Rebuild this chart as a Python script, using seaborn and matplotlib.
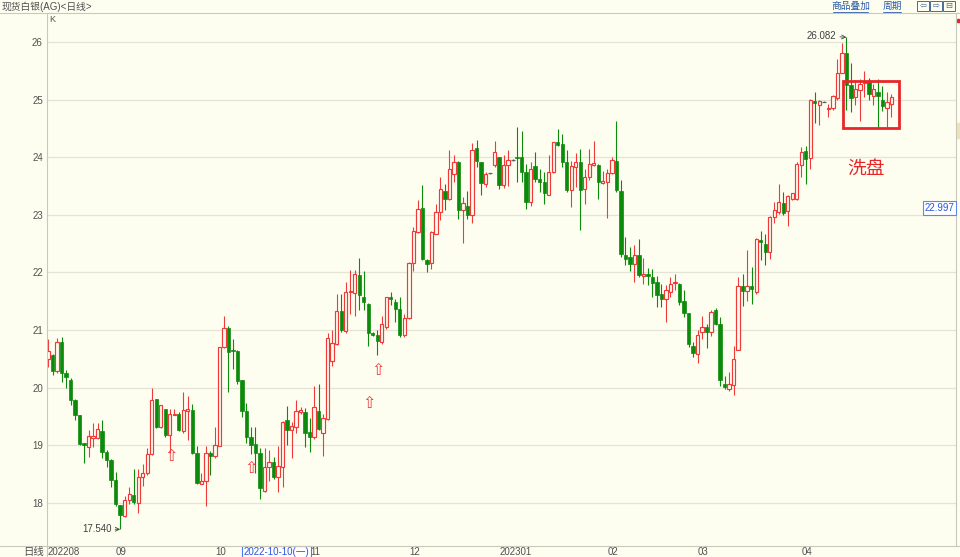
import matplotlib
matplotlib.use("Agg")
import matplotlib.pyplot as plt
import matplotlib.transforms as mtransforms
from matplotlib.lines import Line2D
from matplotlib.patches import Rectangle
import numpy as np
import seaborn as sns

# daily candles, spot silver (AG), Aug 2022 - Apr 2023
opens = [
    20.49, 20.57, 20.28, 20.80, 20.25, 20.14, 19.78, 19.52, 19.03, 18.97,
    19.12, 19.12, 19.24, 18.89, 18.75, 18.40, 17.96, 17.77, 18.04, 18.13,
    17.99, 18.44, 18.51, 18.85, 19.80, 19.31, 19.62, 19.18, 19.53, 19.54,
    19.25, 19.60, 19.61, 18.86, 18.33, 18.37, 18.87, 18.82, 18.99, 20.70,
    21.03, 20.65, 20.64, 20.13, 19.60, 19.15, 19.02, 18.86, 18.21, 18.63,
    18.71, 18.44, 18.63, 19.43, 19.26, 19.32, 19.58, 19.58, 19.23, 19.15,
    19.60, 19.21, 19.45, 20.47, 20.76, 21.33, 20.99, 21.66, 21.64, 21.95,
    21.57, 21.45, 20.94, 20.92, 20.79, 21.05, 21.57, 21.49, 21.37, 20.91,
    21.21, 22.16, 22.70, 23.12, 22.22, 22.16, 22.67, 23.05, 23.41, 23.27,
    23.71, 23.91, 23.08, 23.16, 22.99, 24.16, 23.91, 23.54, 23.72, 23.87,
    24.00, 23.51, 23.87, 23.95, 24.00, 24.00, 23.74, 23.22, 23.84, 23.62,
    23.57, 23.35, 23.75, 24.26, 24.23, 23.91, 23.43, 23.83, 23.91, 23.45,
    23.66, 23.87, 23.87, 23.56, 23.57, 23.72, 23.94, 23.41, 22.30, 22.27,
    22.15, 22.31, 21.94, 21.97, 21.92, 21.83, 21.62, 21.54, 21.66, 21.82,
    21.80, 21.50, 21.29, 20.73, 20.59, 20.97, 21.05, 20.97, 21.34, 21.11,
    20.06, 19.98, 20.04, 20.66, 21.77, 21.68, 21.76, 21.66, 22.57, 22.49,
    22.35, 22.97, 23.05, 23.21, 23.07, 23.28, 23.28, 23.86, 24.11, 23.98,
    24.98, 24.90, 24.96, 24.83, 24.85, 25.02, 25.47, 25.81, 25.25, 25.04,
    25.17, 25.28, 25.31, 25.06, 25.14, 24.99, 24.85, 24.92,
]
closes = [
    20.64, 20.29, 20.80, 20.25, 20.18, 19.78, 19.52, 19.02, 19.00, 19.16,
    19.16, 19.28, 18.88, 18.74, 18.40, 17.98, 17.79, 18.04, 18.15, 18.02,
    18.44, 18.51, 18.85, 19.78, 19.31, 19.69, 19.18, 19.54, 19.55, 19.26,
    19.61, 19.62, 18.86, 18.35, 18.37, 18.87, 18.82, 19.00, 20.70, 21.03,
    20.61, 20.63, 20.12, 19.60, 19.15, 19.01, 18.86, 18.25, 18.63, 18.71,
    18.44, 18.64, 19.41, 19.26, 19.33, 19.59, 19.61, 19.22, 19.15, 19.66,
    19.28, 19.47, 20.86, 20.78, 21.33, 21.00, 21.66, 21.68, 21.97, 21.60,
    21.49, 20.94, 20.92, 20.81, 21.11, 21.57, 21.53, 21.37, 20.91, 21.21,
    22.17, 22.72, 23.10, 22.23, 22.15, 22.70, 23.05, 23.45, 23.27, 23.80,
    23.91, 23.08, 23.20, 22.99, 24.13, 23.94, 23.55, 23.71, 23.72, 24.09,
    23.51, 23.87, 23.95, 23.95, 23.99, 23.74, 23.22, 23.80, 23.62, 23.57,
    23.38, 23.75, 24.26, 24.22, 23.91, 23.43, 23.84, 23.91, 23.43, 23.66,
    23.88, 23.90, 23.57, 23.58, 23.72, 23.95, 23.43, 22.32, 22.24, 22.15,
    22.31, 21.95, 21.97, 21.93, 21.81, 21.60, 21.54, 21.70, 21.80, 21.84,
    21.49, 21.29, 20.75, 20.60, 20.91, 21.05, 20.97, 21.31, 21.11, 20.13,
    20.01, 20.07, 20.50, 21.77, 21.68, 21.77, 21.72, 22.58, 22.53, 22.35,
    22.97, 23.08, 23.22, 23.03, 23.32, 23.37, 23.89, 24.09, 23.96, 25.00,
    24.94, 24.97, 24.96, 24.86, 25.06, 25.47, 25.81, 25.25, 25.02, 25.19,
    25.27, 25.31, 25.10, 25.18, 25.06, 24.89, 24.96, 25.05,
]
highs = [
    20.84, 20.59, 20.86, 20.87, 20.31, 20.16, 19.80, 19.53, 19.04, 19.26,
    19.39, 19.39, 19.43, 18.91, 18.76, 18.54, 17.97, 18.11, 18.28, 18.58,
    18.58, 18.67, 18.95, 20.00, 19.81, 19.70, 19.63, 19.63, 19.62, 19.58,
    19.92, 19.85, 19.71, 18.99, 18.51, 18.99, 18.90, 19.31, 20.71, 21.24,
    21.07, 20.85, 20.65, 20.14, 19.73, 19.32, 19.31, 18.95, 18.95, 18.92,
    18.80, 18.99, 19.42, 19.68, 19.41, 19.78, 19.66, 19.64, 19.48, 20.03,
    20.07, 19.55, 20.94, 21.00, 21.63, 21.62, 21.83, 22.05, 22.05, 22.25,
    22.03, 21.46, 20.96, 21.00, 21.24, 21.58, 21.66, 21.53, 21.57, 21.28,
    22.18, 22.79, 23.25, 23.51, 22.23, 22.71, 23.19, 23.66, 23.54, 24.12,
    24.03, 23.94, 23.31, 23.42, 24.24, 24.29, 23.92, 23.74, 23.73, 24.28,
    24.01, 24.03, 24.12, 23.97, 24.53, 24.45, 23.88, 23.91, 24.09, 23.80,
    23.74, 24.03, 24.27, 24.49, 24.40, 24.12, 23.94, 24.07, 24.14, 23.80,
    24.14, 24.28, 23.88, 23.76, 23.80, 24.01, 24.62, 23.60, 22.61, 22.44,
    22.47, 22.58, 22.25, 22.08, 22.06, 21.93, 21.80, 21.78, 21.92, 21.98,
    21.81, 21.69, 21.30, 20.79, 21.00, 21.25, 21.11, 21.35, 21.38, 21.23,
    20.20, 20.27, 20.73, 21.92, 21.98, 22.38, 22.09, 22.59, 22.72, 22.66,
    22.98, 23.22, 23.53, 23.40, 23.34, 23.38, 23.92, 24.18, 24.19, 25.01,
    25.14, 25.00, 24.97, 24.93, 25.08, 25.70, 25.98, 26.082, 25.63, 25.34,
    25.35, 25.50, 25.37, 25.27, 25.35, 25.24, 25.14, 25.10,
]
lows = [
    20.36, 20.22, 20.25, 20.09, 20.00, 19.70, 19.44, 19.00, 18.69, 18.79,
    18.97, 19.10, 18.77, 18.63, 18.28, 17.94, 17.54, 17.75, 17.98, 17.98,
    17.82, 18.29, 18.49, 18.83, 19.30, 19.30, 19.15, 18.86, 19.52, 19.25,
    19.22, 19.09, 18.85, 18.33, 18.32, 17.94, 18.48, 18.77, 18.98, 20.68,
    19.92, 20.33, 20.07, 19.49, 19.04, 18.85, 18.51, 18.07, 18.19, 18.37,
    18.42, 18.19, 18.28, 19.00, 18.78, 19.22, 19.55, 18.97, 18.88, 19.10,
    19.27, 18.81, 19.44, 20.37, 20.74, 20.96, 20.94, 21.27, 21.25, 21.35,
    21.35, 20.72, 20.90, 20.56, 20.76, 21.02, 21.44, 21.14, 20.88, 20.88,
    21.19, 22.02, 22.68, 22.21, 22.00, 22.06, 22.66, 22.91, 23.09, 23.25,
    23.57, 22.93, 22.51, 22.93, 22.86, 23.83, 23.35, 23.49, 23.71, 23.83,
    23.45, 23.47, 23.50, 23.94, 23.57, 23.57, 23.10, 23.16, 23.57, 23.39,
    23.19, 23.34, 23.72, 24.20, 23.83, 23.39, 23.13, 23.48, 22.74, 23.19,
    23.60, 23.85, 23.27, 23.54, 22.95, 23.70, 23.39, 22.27, 22.12, 22.03,
    21.83, 21.92, 21.80, 21.78, 21.57, 21.40, 21.40, 21.14, 21.57, 21.69,
    21.43, 21.23, 20.71, 20.53, 20.42, 20.84, 20.68, 20.90, 21.08, 20.02,
    19.98, 19.94, 19.87, 20.65, 21.42, 21.50, 21.45, 21.63, 22.21, 22.12,
    22.24, 22.85, 23.02, 22.99, 22.80, 23.25, 23.25, 23.66, 23.54, 23.79,
    24.60, 24.56, 24.95, 24.69, 24.82, 24.99, 25.46, 24.82, 24.79, 24.91,
    24.63, 25.05, 24.99, 24.90, 24.50, 24.81, 24.52, 24.70,
]

month_labels = ["202208", "09", "10", "11", "12", "202301", "02", "03", "04"]
month_idx = [0, 16, 38, 59, 81, 101, 125, 145, 168]

# hollow up-arrow signals (candle position, price)
signal_idx = [27.2, 45.0, 71.2, 73.1]
signal_val = [18.80, 18.59, 19.73, 20.29]

title = "现货白银(AG)<日线>"
cursor_date = "2022-10-10(一)"
last_price = "22.997"
note = "洗盘"

BG = "#fefef0"
UP = "#f03a3a"
DOWN = "#0b8a0b"
GRID = "#e3e3d6"
LINE = "#c8c8bc"
TXT = "#505050"
BLUE = "#2a55e0"
MARK = "#e8262a"

sns.set_theme(style="white", rc={"axes.facecolor": BG, "figure.facecolor": BG})
plt.rcParams["font.family"] = ["Liberation Sans", "Noto Sans CJK SC", "DejaVu Sans"]

W, H = 960, 557
fig = plt.figure(figsize=(W / 100, H / 100), dpi=100)


def fx(x):
    return x / W


def fy(y):
    return 1 - y / H


ax = fig.add_axes([fx(47), fy(546), 909 / W, 533 / H])
ax.set_facecolor(BG)
for s in ax.spines.values():
    s.set_visible(False)

o = np.array(opens)
c = np.array(closes)
h = np.array(highs)
l = np.array(lows)
idx = np.arange(len(o))
up = c > o
down = c < o
flat = c == o

wick_col = np.where(up, UP, np.where(down, DOWN, "#606060"))
ax.vlines(idx, l, h, colors=wick_col, linewidth=0.8, zorder=2)
ax.bar(idx[up], (c - o)[up], bottom=o[up], width=0.74, facecolor=BG,
       edgecolor=UP, linewidth=0.85, zorder=3)
ax.bar(idx[down], (o - c)[down], bottom=c[down], width=0.74, facecolor=DOWN,
       edgecolor=DOWN, linewidth=0.5, zorder=3)
ax.hlines(c[flat], idx[flat] - 0.45, idx[flat] + 0.45, colors="#606060",
          linewidth=0.9, zorder=3)

ax.set_xlim(-0.22, 201.3)
ax.set_ylim(17.25, 26.503)
ax.set_yticks(range(18, 27))
ax.set_yticklabels([str(v) for v in range(18, 27)])
ax.set_xticks([])
ax.tick_params(axis="y", length=0, pad=3, labelsize=7, labelcolor=TXT)
ax.grid(axis="y", color=GRID, linewidth=0.9)
ax.set_axisbelow(True)

# month labels under the axis
trans = mtransforms.blended_transform_factory(ax.transData, ax.transAxes)
for lab, i in zip(month_labels, month_idx):
    xpos = i if i == 0 else i - 0.95
    ax.text(xpos, -0.0113, lab, transform=trans, ha="left", va="center",
            fontsize=7, color=TXT, clip_on=False)
ax.text(43.4, -0.0113, cursor_date, transform=trans, ha="left", va="center",
        fontsize=7, color=BLUE, clip_on=False, zorder=5,
        bbox=dict(boxstyle="square,pad=0.15", fc="#ffffff", ec="#4a78f0", lw=0.8))

# extreme labels
imax = int(np.argmax(h))
imin = int(np.argmin(l))
ax.annotate(f"{h[imax]:.3f}", xy=(imax, h[imax]), xytext=(-7, 1),
            textcoords="offset points", ha="right", va="center", fontsize=7,
            color="#404040",
            arrowprops=dict(arrowstyle="->", color="#404040", lw=0.6,
                            shrinkA=0, shrinkB=0))
ax.annotate(f"{l[imin]:.3f}", xy=(imin, l[imin]), xytext=(-6, 0),
            textcoords="offset points", ha="right", va="center", fontsize=7,
            color="#404040",
            arrowprops=dict(arrowstyle="->", color="#404040", lw=0.6,
                            shrinkA=0, shrinkB=0))

for si, sv in zip(signal_idx, signal_val):
    ax.text(si, sv, "⇧", color=UP, fontsize=11.5, ha="center", va="center",
            family="DejaVu Sans", zorder=4)

# highlighted consolidation
ax.add_patch(Rectangle((176.2, 24.50), 12.4, 0.83, fill=False, ec=MARK,
                       lw=2.0, zorder=5))
ax.text(181.4, 23.80, note, color=MARK, fontsize=13.5, ha="center",
        va="center", family=["Noto Sans CJK SC"])

# frame lines of the terminal window
for (x0, y0, x1, y1) in [(0, 13, W, 13), (0, 546, W, 546),
                         (47, 13, 47, H), (956, 13, 956, 546)]:
    fig.add_artist(Line2D([fx(x0), fx(x1)], [fy(y0), fy(y1)], color=LINE,
                          lw=0.8, transform=fig.transFigure))

fig.text(fx(2), fy(6.5), title, fontsize=7, color=TXT, va="center")
fig.text(fx(49), fy(20), "K", fontsize=6.5, color=TXT, va="center")
fig.text(fx(44), fy(552), "日线", fontsize=7.5, color=TXT, ha="right",
         va="center")

for lab, xc, x0, x1 in [("商品叠加", 850.5, 833, 868), ("周期", 892, 883, 901)]:
    fig.text(fx(xc), fy(6), lab, fontsize=7, color="#2a5caa", ha="center",
             va="center")
    fig.add_artist(Line2D([fx(x0), fx(x1)], [fy(11.5), fy(11.5)],
                          color="#2a5caa", lw=0.6, transform=fig.transFigure))

for k, g in enumerate(["⇦", "⇨", "⊟"]):
    x0 = 917 + k * 13
    fig.add_artist(Rectangle((fx(x0), fy(11)), 12 / W, 10 / H, fill=False,
                             ec="#4a6a9a", lw=0.7, transform=fig.transFigure))
    fig.text(fx(x0 + 6), fy(6), g, fontsize=6, color="#4a6a9a", ha="center",
             va="center", family="DejaVu Sans")

fig.add_artist(Rectangle((fx(957), fy(22)), 3 / W, 3 / H, color=MARK,
                         transform=fig.transFigure))
fig.add_artist(Rectangle((fx(957), fy(138)), 3 / W, 15 / H, color="#f0e2b8",
                         transform=fig.transFigure))

fig.text(fx(939.5), fy(208), last_price, fontsize=7, color=BLUE, ha="center",
         va="center",
         bbox=dict(boxstyle="square,pad=0.2", fc="#ffffff", ec="#5a88f0", lw=0.8))

fig.savefig("out.png", dpi=100, facecolor=BG)
